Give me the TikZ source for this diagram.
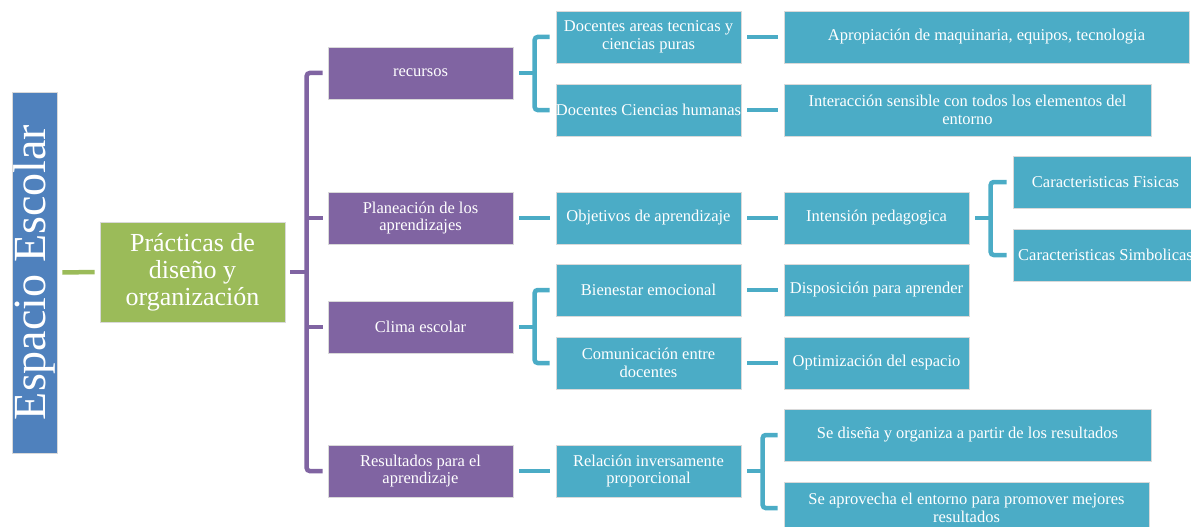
\documentclass[tikz,border=0pt]{standalone}
\usepackage{fontspec}
\setmainfont{Liberation Serif}
\definecolor{cblue}{HTML}{4F81BD}
\definecolor{cgreen}{HTML}{9BBB59}
\definecolor{cpurple}{HTML}{8064A2}
\definecolor{cteal}{HTML}{4BACC6}
\begin{document}
\begin{tikzpicture}[x=1pt,y=-1pt,
  base/.style={rectangle, inner sep=0pt, align=center, text=white, draw=white!85!black, line width=0.6pt},
  pbox/.style={base, fill=cpurple, minimum width=185pt, minimum height=52pt, font=\fontsize{16.5}{17.5}\selectfont},
  tbox/.style={base, fill=cteal, minimum height=52pt, font=\fontsize{16.5}{17.5}\selectfont},
  tline/.style={draw=cteal, line width=4.5pt, rounded corners=3pt},
  pline/.style={draw=cpurple, line width=4.5pt, rounded corners=3pt},
  gline/.style={draw=cgreen, line width=4.5pt}]
\useasboundingbox (0,0) rectangle (1191,527);
% root
\node[base, fill=cblue, minimum width=361pt, minimum height=45pt, rotate=90, font=\fontsize{46}{50}\selectfont] (esp) at (34.5,272.5) {Espacio Escolar};
\node[base, fill=cgreen, minimum width=185pt, minimum height=100pt, font=\fontsize{26}{27}\selectfont] (pr) at (192.5,272) {Prácticas de\\diseño y\\organización};
% purple level
\node[pbox] (rec) at (420.5,73) {recursos};
\node[pbox] (plan) at (420.5,218) {Planeación de los\\aprendizajes};
\node[pbox] (cli) at (420.5,327) {Clima escolar};
\node[pbox] (res) at (420.5,471) {Resultados para el\\aprendizaje};
% teal level 2
\node[tbox, minimum width=185pt] (dat) at (648.5,37) {Docentes areas tecnicas y\\ciencias puras};
\node[tbox, minimum width=185pt] (dch) at (648.5,110) {Docentes Ciencias humanas};
\node[tbox, minimum width=185pt] (obj) at (648.5,218) {Objetivos de aprendizaje};
\node[tbox, minimum width=185pt] (bie) at (648.5,290) {Bienestar emocional};
\node[tbox, minimum width=185pt] (com) at (648.5,363) {Comunicación entre\\docentes};
\node[tbox, minimum width=185pt] (rel) at (648.5,471) {Relación inversamente\\proporcional};
% teal level 3
\node[tbox, minimum width=405pt] (apr) at (986.5,37) {Apropiación de maquinaria, equipos, tecnologia};
\node[tbox, minimum width=367pt] (int) at (967.5,110) {Interacción sensible con todos los elementos del\\entorno};
\node[tbox, minimum width=185pt] (ite) at (876.5,218) {Intensión pedagogica};
\node[tbox, minimum width=185pt] (dis) at (876.5,290) {Disposición para aprender};
\node[tbox, minimum width=185pt] (opt) at (876.5,363) {Optimización del espacio};
\node[tbox, minimum width=367pt] (sed) at (967.5,435) {Se diseña y organiza a partir de los resultados};
\node[tbox, minimum width=365pt] (sea) at (966.5,508) {Se aprovecha el entorno para promover mejores\\resultados};
% teal level 4
\node[tbox, minimum width=185pt] (cf) at (1105.5,182) {Caracteristicas Fisicas};
\node[tbox, minimum width=185pt] (cs) at (1105.5,255) {Caracteristicas Simbolicas};
% green connector
\draw[gline] ([xshift=5pt]esp.south) -- ([xshift=-5pt]pr.west);
% purple tree
\coordinate (ptr) at ([xshift=-21pt]rec.west);
\draw[pline] ([xshift=-5pt]rec.west) -| ([xshift=-21pt]res.west) -- ([xshift=-5pt]res.west);
\draw[pline] ([xshift=5pt]pr.east) -- (pr.east -| ptr);
\draw[pline] (plan.west -| ptr) -- ([xshift=-5pt]plan.west);
\draw[pline] (cli.west -| ptr) -- ([xshift=-5pt]cli.west);
% teal forks
\draw[tline] ([xshift=-6pt]dat.west) -| ([xshift=-21pt]dch.west) -- ([xshift=-6pt]dch.west);
\draw[tline] ([xshift=6pt]rec.east) -- ([xshift=22pt]rec.east);
\draw[tline] ([xshift=-6pt]bie.west) -| ([xshift=-21pt]com.west) -- ([xshift=-6pt]com.west);
\draw[tline] ([xshift=6pt]cli.east) -- ([xshift=22pt]cli.east);
\draw[tline] ([xshift=-6pt]cf.west) -| ([xshift=-22pt]cs.west) -- ([xshift=-6pt]cs.west);
\draw[tline] ([xshift=6pt]ite.east) -- ([xshift=22pt]ite.east);
\draw[tline] ([xshift=-6pt]sed.west) -| ([xshift=-21pt]sea.west) -- ([xshift=-6pt]sea.west);
\draw[tline] ([xshift=6pt]rel.east) -- ([xshift=22pt]rel.east);
% straight teal links
\draw[tline] ([xshift=6pt]plan.east) -- ([xshift=-6pt]obj.west);
\draw[tline] ([xshift=6pt]res.east) -- ([xshift=-6pt]rel.west);
\draw[tline] ([xshift=6pt]dat.east) -- ([xshift=-6pt]apr.west);
\draw[tline] ([xshift=6pt]dch.east) -- ([xshift=-6pt]int.west);
\draw[tline] ([xshift=6pt]obj.east) -- ([xshift=-6pt]ite.west);
\draw[tline] ([xshift=6pt]bie.east) -- ([xshift=-6pt]dis.west);
\draw[tline] ([xshift=6pt]com.east) -- ([xshift=-6pt]opt.west);
\end{tikzpicture}
\end{document}
